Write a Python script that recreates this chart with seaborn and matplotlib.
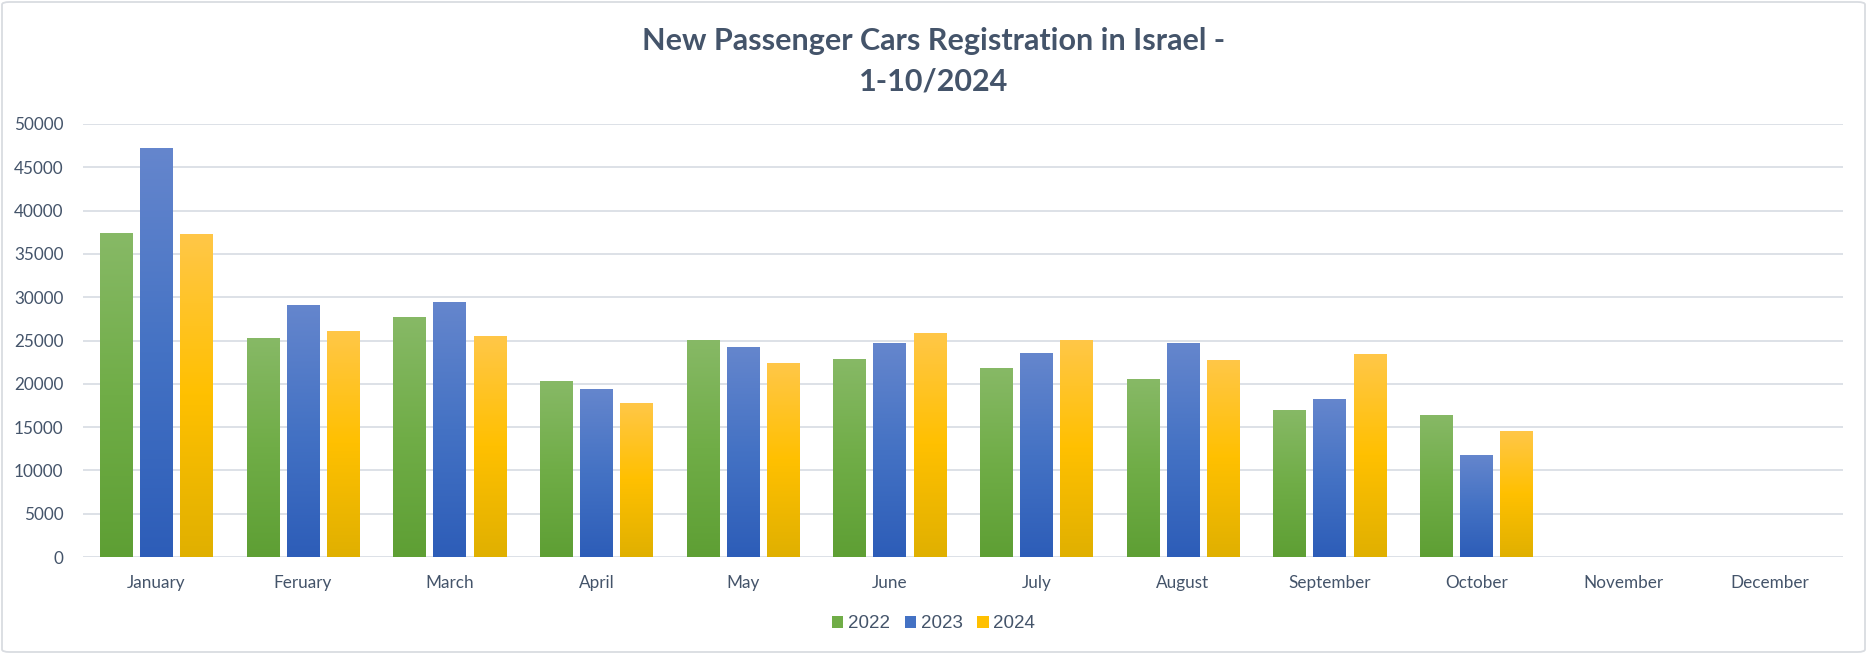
import numpy as np
import pandas as pd
import matplotlib
matplotlib.use("Agg")
import matplotlib.pyplot as plt
import seaborn as sns
from matplotlib.patches import Patch, FancyBboxPatch
from matplotlib.colors import LinearSegmentedColormap

# ---- data ----
months = ["January", "Feruary", "March", "April", "May", "June", "July",
          "August", "September", "October", "November", "December"]
years = ["2022", "2023", "2024"]
v2022 = [37400, 25300, 27700, 20300, 25100, 22900, 21800, 20500, 17000, 16400]
v2023 = [47200, 29100, 29500, 19400, 24300, 24700, 23500, 24700, 18200, 11800]
v2024 = [37300, 26100, 25500, 17800, 22400, 25900, 25100, 22800, 23400, 14500]
yticks = [0, 5000, 10000, 15000, 20000, 25000, 30000, 35000, 40000, 45000, 50000]
title = "New Passenger Cars Registration in Israel -\n1-10/2024"

rows = []
for yr, vals in zip(years, [v2022, v2023, v2024]):
    for m, v in zip(months, vals):
        rows.append({"month": m, "year": yr, "value": v})
df = pd.DataFrame(rows)

# ---- styling ----
grad = {
    "2022": ["#5E9F34", "#70AD47", "#87B966"],
    "2023": ["#2D5DB8", "#4472C4", "#6586CD"],
    "2024": ["#E0B000", "#FFC000", "#FFC748"],
}
mid = {k: v[1] for k, v in grad.items()}
text_col = "#44546A"
grid_col = "#DDE1E7"

sns.set_theme(style="white")
plt.rcParams["font.family"] = ["Lato", "DejaVu Sans"]

W, H, DPI = 1867, 654, 100
fig = plt.figure(figsize=(W / DPI, H / DPI), dpi=DPI)
ax = fig.add_axes([83 / W, 1 - 557 / H, (1843 - 83) / W, (557 - 124) / H])

sns.barplot(data=df, x="month", y="value", hue="year", order=months,
            hue_order=years, palette=mid, width=0.82, gap=0.19,
            errorbar=None, legend=False, ax=ax, zorder=3)

ax.set_xlim(-0.5, len(months) - 0.5)
ax.set_ylim(0, 50000)
ax.set_yticks(yticks)
ax.set_yticklabels([str(t) for t in yticks])
ax.yaxis.grid(True, color=grid_col, linewidth=1.4, zorder=0)
ax.set_axisbelow(True)
for s in ax.spines.values():
    s.set_visible(False)
ax.tick_params(axis="both", length=0, labelsize=12.3, labelcolor=text_col)
ax.tick_params(axis="y", pad=14)
ax.tick_params(axis="x", pad=13)
ax.set_xlabel("")
ax.set_ylabel("")

# gradient fill for each bar
for cont, yr in zip(ax.containers, years):
    cmap = LinearSegmentedColormap.from_list("g" + yr, grad[yr])
    for bar in cont:
        h = bar.get_height()
        if not np.isfinite(h) or h <= 0:
            continue
        x0 = bar.get_x()
        w = bar.get_width()
        bar.set_facecolor("none")
        bar.set_edgecolor("none")
        g = np.linspace(0, 1, 256).reshape(-1, 1)
        im = ax.imshow(g, cmap=cmap, origin="lower", aspect="auto",
                       extent=[x0, x0 + w, 0, h], zorder=3, interpolation="bilinear")
        im.set_clip_path(bar)

ax.set_xlim(-0.5, len(months) - 0.5)
ax.set_ylim(0, 50000)

# title
fig.text(0.5, 1 - 61 / H, title, ha="center", va="center", fontsize=22,
         fontweight="bold", color=text_col, linespacing=1.55)

# legend
handles = [Patch(facecolor=mid[y], edgecolor="none", label=y) for y in years]
fig.legend(handles=handles, loc="center", bbox_to_anchor=(0.5, 1 - 624 / H),
           ncol=3, frameon=False, handlelength=0.6, handleheight=0.6,
           handletextpad=0.25, columnspacing=0.8,
           prop={"family": "Liberation Sans", "size": 13.5}, labelcolor=text_col)

# chart border
border = FancyBboxPatch((2 / W, 2 / H), 1 - 4 / W, 1 - 4 / H,
                        boxstyle="round,pad=0,rounding_size=0.004",
                        transform=fig.transFigure, facecolor="none",
                        edgecolor="#D9DCE1", linewidth=1.3)
fig.patches.append(border)

fig.savefig("out.png", dpi=DPI, facecolor="white")
